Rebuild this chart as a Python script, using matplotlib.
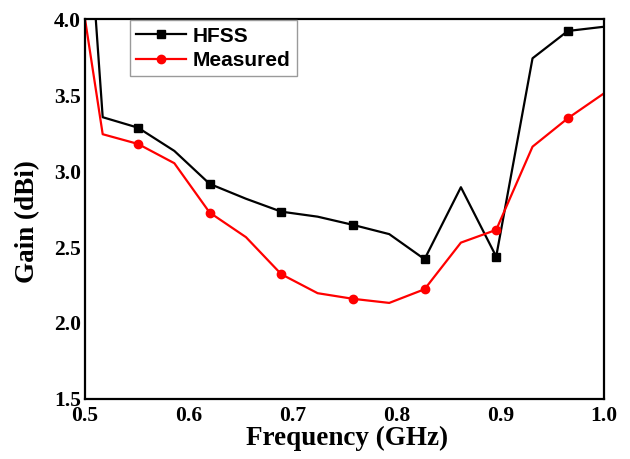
import matplotlib
matplotlib.use("Agg")
import matplotlib.pyplot as plt

# Gain vs. frequency, simulated (HFSS) and measured
freq_ghz = [0.500, 0.517, 0.551, 0.586, 0.620, 0.655, 0.689, 0.724,
            0.758, 0.793, 0.827, 0.862, 0.896, 0.931, 0.965, 1.000]
gain_hfss = [5.00, 3.355, 3.286, 3.133, 2.916, 2.818, 2.733, 2.700,
             2.646, 2.585, 2.420, 2.894, 2.437, 3.743, 3.923, 3.951]
gain_measured = [4.00, 3.243, 3.179, 3.052, 2.727, 2.565, 2.321, 2.196,
                 2.159, 2.132, 2.222, 2.529, 2.613, 3.161, 3.348, 3.513]

x_ticks = [0.5, 0.6, 0.7, 0.8, 0.9, 1.0]
y_ticks = [1.5, 2.0, 2.5, 3.0, 3.5, 4.0]

serif_bold = {"family": "Liberation Serif", "weight": "bold"}

fig = plt.figure(figsize=(6.3, 4.59), dpi=100)
ax = fig.add_axes([0.135, 0.131, 0.824, 0.827])

ax.plot(freq_ghz, gain_hfss, color="black", lw=1.6, marker="s", ms=6,
        markevery=list(range(2, len(freq_ghz), 2)), label="HFSS")
ax.plot(freq_ghz, gain_measured, color="red", lw=1.6, marker="o", ms=6,
        markevery=list(range(2, len(freq_ghz), 2)), label="Measured")

ax.set_xlim(0.5, 1.0)
ax.set_ylim(1.5, 4.0)
ax.set_xticks(x_ticks)
ax.set_yticks(y_ticks)
ax.set_xticklabels([f"{v:.1f}" for v in x_ticks], fontdict=serif_bold, fontsize=15.5)
ax.set_yticklabels([f"{v:.1f}" for v in y_ticks], fontdict=serif_bold, fontsize=15.5)
ax.tick_params(axis="y", length=0, pad=3)
ax.tick_params(axis="x", length=0, pad=5)

for s in ax.spines.values():
    s.set_linewidth(1.6)
    s.set_color("black")

ax.set_xlabel("Frequency (GHz)", fontdict=serif_bold, fontsize=19.5)
ax.set_ylabel("Gain (dBi)", fontdict=serif_bold, fontsize=19.5)
ax.xaxis.set_label_coords(0.505, -0.072)
ax.yaxis.set_label_coords(-0.087, 0.467)

leg = ax.legend(loc="upper left", bbox_to_anchor=(0.087, 0.997),
                borderaxespad=0, fancybox=False, framealpha=1,
                edgecolor="#9a9a9a", handlelength=2.4, handletextpad=0.3,
                borderpad=0.3, labelspacing=0.25,
                prop={"family": "Liberation Sans", "weight": "bold", "size": 15})
leg.get_frame().set_linewidth(1.0)

fig.savefig("out.png", dpi=100)
